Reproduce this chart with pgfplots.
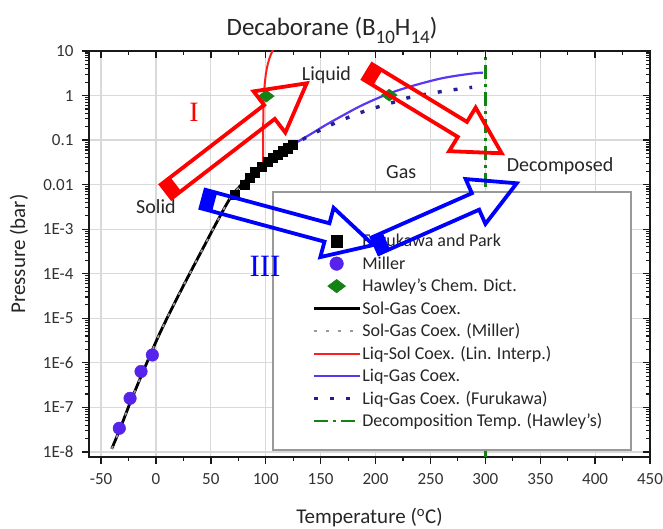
\documentclass[border=0pt]{standalone}
\usepackage{fontspec}
\setmainfont{Carlito}
\newfontfamily\romanfont{Liberation Serif}
\usepackage{pgfplots}
\pgfplotsset{compat=1.18}
\usetikzlibrary{calc}

\definecolor{frame}{RGB}{25,25,25}
\definecolor{ticktext}{RGB}{50,50,50}
\definecolor{millerblue}{RGB}{85,35,235}
\definecolor{lgblue}{RGB}{90,55,245}
\definecolor{furunavy}{RGB}{35,30,150}
\definecolor{hgreen}{RGB}{20,130,20}
\definecolor{lsred}{RGB}{255,30,30}
\definecolor{arrred}{RGB}{255,0,0}
\definecolor{arrblue}{RGB}{0,0,255}

% outlined block arrow: colour, tail, tip, shaft half-width, head half-width, head length
\newcommand{\blockarrow}[6]{%
  \coordinate (ba-t) at #2;
  \coordinate (ba-h) at #3;
  \coordinate (ba-c) at ($(ba-h)!#6!(ba-t)$);
  \coordinate (ba-t1) at ($(ba-t)!#4!90:(ba-h)$);
  \coordinate (ba-t2) at ($(ba-t)!#4!-90:(ba-h)$);
  \coordinate (ba-s1) at ($(ba-c)!#4!90:(ba-h)$);
  \coordinate (ba-s2) at ($(ba-c)!#4!-90:(ba-h)$);
  \coordinate (ba-h1) at ($(ba-c)!#5!90:(ba-h)$);
  \coordinate (ba-h2) at ($(ba-c)!#5!-90:(ba-h)$);
  \fill[#1] (ba-t1) -- ($(ba-t1)!12pt!(ba-s1)$) -- ($(ba-t2)!12pt!(ba-s2)$) -- (ba-t2) -- cycle;
  \draw[#1, line width=3.8pt, line join=miter, miter limit=10]
    (ba-t1) -- (ba-s1) -- (ba-h1) -- (ba-h) -- (ba-h2) -- (ba-s2) -- (ba-t2) -- cycle;
}

\pgfplotsset{
  markentry/.style={legend image code/.code={%
      \path[draw=none] (0pt,1.5pt) -- (46pt,1.5pt);
      \draw[##1, only marks, mark size=#1] plot coordinates {(23pt,1.5pt)};}},
  lineentry/.style={legend image code/.code={%
      \draw[##1] (0pt,1.5pt) -- (46pt,1.5pt);}},
}

\newcommand{\minorlogticks}{2e-8,3e-8,4e-8,5e-8,6e-8,7e-8,8e-8,9e-8,
  2e-7,3e-7,4e-7,5e-7,6e-7,7e-7,8e-7,9e-7,
  2e-6,3e-6,4e-6,5e-6,6e-6,7e-6,8e-6,9e-6,
  2e-5,3e-5,4e-5,5e-5,6e-5,7e-5,8e-5,9e-5,
  2e-4,3e-4,4e-4,5e-4,6e-4,7e-4,8e-4,9e-4,
  2e-3,3e-3,4e-3,5e-3,6e-3,7e-3,8e-3,9e-3,
  0.02,0.03,0.04,0.05,0.06,0.07,0.08,0.09,
  0.2,0.3,0.4,0.5,0.6,0.7,0.8,0.9,
  2,3,4,5,6,7,8,9}

\begin{document}
\begin{tikzpicture}
\path[use as bounding box] (0pt,0pt) rectangle (663pt,529pt);

\begin{axis}[
  at={(89pt,72pt)}, anchor=south west,
  scale only axis, width=561pt, height=406pt,
  xmin=-61, xmax=450, ymin=7.7e-9, ymax=10,
  ymode=log,
  xtick={-50,0,50,100,150,200,250,300,350,400,450},
  minor x tick num=1,
  ytick={1e-8,1e-7,1e-6,1e-5,1e-4,1e-3,1e-2,1e-1,1,10},
  minor ytick/.expand once={\minorlogticks},
  major tick length=7pt, minor tick length=4pt,
  major tick style={frame, line width=1.3pt},
  minor tick style={frame, line width=1.1pt},
  axis line style={draw=frame, line width=1.6pt},
  xtick pos=bottom, ytick pos=left,
  tick align=outside,
  xticklabels={-50,0,50,100,150,200,250,300,350,400,450},
  yticklabels={1E-8,1E-7,1E-6,1E-5,1E-4,1E-3,0.01,0.1,1,10},
  tick label style={font=\fontsize{17}{20}\selectfont, text=ticktext},
  xticklabel style={yshift=-6pt},
  yticklabel style={xshift=-5pt},
  grid=major,
  major grid style={draw=black!15, line width=1.2pt},
  legend style={
    at={(0.397,0.5525)}, anchor=north west,
    draw=none, fill=none, inner sep=0pt,
    font=\fontsize{18}{21}\selectfont, text=black!85,
    row sep=3pt,
    nodes={inner sep=1pt, text height=13pt, text depth=4.5pt},
  },
  legend cell align=left,
]

% Furukawa and Park
\addplot[only marks, mark=square*, mark size=4.6pt, black, markentry=5.6pt]
  coordinates {(71.8,6.03e-3) (80.9,1.00e-2) (85.5,1.41e-2) (90,1.91e-2)
    (96.1,2.57e-2) (102.1,3.31e-2) (106.6,3.98e-2) (111.2,4.68e-2)
    (115.7,5.62e-2) (120.3,6.61e-2) (124.8,7.94e-2)};
\addlegendentry{Furukawa and Park}

% Miller
\addplot[only marks, mark=*, mark size=6.3pt, millerblue,
  mark options={draw=millerblue, fill=millerblue}, markentry=6.8pt]
  coordinates {(-33.4,3.4e-8) (-23.6,1.6e-7) (-13.6,6.4e-7) (-3.3,1.5e-6)};
\addlegendentry{Miller}

% Hawley's Chemical Dictionary
\addplot[only marks, mark=diamond*, mark size=8pt, hgreen,
  mark options={rotate=90, draw=hgreen, fill=hgreen}, markentry=9pt]
  coordinates {(100.5,0.97) (212.5,1.02)};
\addlegendentry{Hawley’s Chem. Dict.}

% solid-gas coexistence
\addplot[black, line width=2.8pt, smooth, lineentry]
  coordinates {(-40.3,1.175e-8) (-32.7,3.31e-8) (-23.6,1.26e-7) (-13,5.37e-7)
    (-5.5,1.45e-6) (3.6,4.68e-6) (15.7,1.91e-5) (27.9,7.41e-5) (43,3.80e-4)
    (55.2,1.41e-3) (68.8,5.50e-3) (82.5,1.29e-2) (97.5,2.57e-2)};
\addlegendentry{Sol-Gas Coex.}

\addplot[black!40, line width=1.7pt, dash pattern=on 3pt off 9pt, smooth, lineentry]
  coordinates {(-40.3,1.175e-8) (-32.7,3.31e-8) (-23.6,1.26e-7) (-13,5.37e-7)
    (-5.5,1.45e-6) (3.6,4.68e-6) (15.7,1.91e-5) (27.9,7.41e-5) (43,3.80e-4)
    (55.2,1.41e-3) (68.8,5.50e-3) (82.5,1.29e-2) (97.5,2.57e-2)};
\addlegendentry{Sol-Gas Coex. (Miller)}

% liquid-solid coexistence, linear interpolation
\addplot[lsred, line width=2pt, lineentry]
  coordinates {(97.5,0.0257) (97.6,0.142) (97.8,0.374) (98,0.606) (98.5,1.186)
    (99,1.766) (100,2.93) (101,4.09) (102,5.25) (103,6.41) (104,7.57)
    (105,8.73) (106,9.89) (107,11.05)};
\addlegendentry{Liq-Sol Coex. (Lin. Interp.)}

% liquid-gas coexistence
\addplot[lgblue, line width=2.2pt, smooth, lineentry]
  coordinates {(97.5,0.0257) (110,0.0437) (125,0.0794) (140,0.132) (155,0.221)
    (170,0.355) (185,0.562) (200,0.832) (215,1.175) (230,1.55) (245,1.97)
    (260,2.43) (275,2.82) (290,3.16) (298,3.27)};
\addlegendentry{Liq-Gas Coex.}

\addplot[furunavy, line width=3.4pt, dash pattern=on 4pt off 12pt, smooth, lineentry]
  coordinates {(97.5,0.0257) (110,0.047) (125,0.079) (141.5,0.132) (156.6,0.204)
    (170.3,0.288) (185.5,0.407) (199,0.525) (214,0.676) (228,0.871)
    (243,1.04) (256.6,1.19) (270,1.34) (288,1.53)};
\addlegendentry{Liq-Gas Coex. (Furukawa)}

% decomposition temperature
\addplot[hgreen, line width=2.6pt, dash pattern=on 14pt off 5pt on 3pt off 5pt, lineentry]
  coordinates {(300,7.7e-9) (300,10)};
\addlegendentry{Decomposition Temp. (Hawley’s)}

% legend frame
\draw[black!40, line width=1.3pt, fill=white]
  (axis description cs:0.328,0.0172) rectangle (axis description cs:0.9661,0.6527);
\end{axis}

% mirrored ticks on the top and right edges
\begin{axis}[
  at={(89pt,72pt)}, anchor=south west,
  scale only axis, width=561pt, height=406pt,
  xmin=-61, xmax=450, ymin=7.7e-9, ymax=10,
  ymode=log,
  xtick={-50,0,50,100,150,200,250,300,350,400,450},
  minor x tick num=1,
  ytick={1e-8,1e-7,1e-6,1e-5,1e-4,1e-3,1e-2,1e-1,1,10},
  minor ytick/.expand once={\minorlogticks},
  major tick length=7pt, minor tick length=4pt,
  major tick style={frame, line width=1.3pt},
  minor tick style={frame, line width=1.1pt},
  axis line style={draw=none},
  xtick pos=top, ytick pos=right,
  tick align=inside,
  xticklabels={}, yticklabels={},
]
\end{axis}

\begin{scope}[shift={(0pt,529pt)}, x=1pt, y=-1pt]
  % titles
  \node[anchor=base, inner sep=0pt, text=black!85, font=\fontsize{25}{30}\selectfont]
    at (332,36) {Decaborane (B\raisebox{-0.3em}{\fontsize{19}{20}\selectfont 10}H\raisebox{-0.3em}{\fontsize{19}{20}\selectfont 14})};
  \node[anchor=base, inner sep=0pt, text=black!85, font=\fontsize{21}{25}\selectfont]
    at (369.5,524) {Temperature (\textsuperscript{o}C)};
  \node[anchor=base, rotate=90, inner sep=0pt, text=black!85, font=\fontsize{21}{25}\selectfont]
    at (25,254) {Pressure (bar)};

  % phase labels
  \node[anchor=base west, inner sep=0pt, text=black!85, font=\fontsize{20}{24}\selectfont]
    at (301.7,80.7) {Liquid};
  \node[anchor=base west, inner sep=0pt, text=black!85, font=\fontsize{20}{24}\selectfont]
    at (136,213.3) {Solid};
  \node[anchor=base west, inner sep=0pt, text=black!85, font=\fontsize{20}{24}\selectfont]
    at (386,178.3) {Gas};
  \node[anchor=base west, inner sep=0pt, text=black!85, font=\fontsize{20}{24}\selectfont]
    at (506.7,171.7) {Decomposed};

  % transition paths
  \blockarrow{arrred}{(166.2,191.5)}{(306.7,83.3)}{8.75pt}{26pt}{47pt}
  \blockarrow{arrred}{(367.5,71.7)}{(501.7,153.3)}{8.8pt}{25.5pt}{46pt}
  \blockarrow{arrblue}{(203,199)}{(373.3,245)}{9.5pt}{25.5pt}{48pt}
  \blockarrow{arrblue}{(375.3,245.7)}{(516.7,183.3)}{9pt}{24.5pt}{45pt}

  \node[anchor=base, inner sep=0pt, text=arrred, font=\romanfont\fontsize{28}{30}\selectfont]
    at (194,121.7) {I};
  \node[anchor=base, inner sep=0pt, text=arrblue, font=\romanfont\fontsize{31}{34}\selectfont]
    at (265,276.7) {III};
\end{scope}
\end{tikzpicture}
\end{document}
